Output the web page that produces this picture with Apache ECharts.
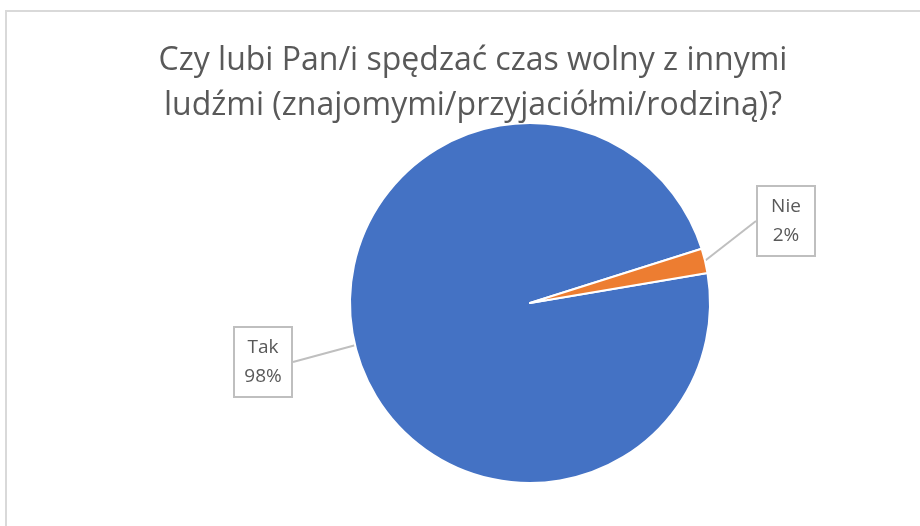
<!DOCTYPE html>
<html>
<head>
<meta charset="utf-8">
<script src="https://cdn.jsdelivr.net/npm/echarts@6/dist/echarts.min.js"></script>
<style>
html,body{margin:0;padding:0;background:#fff;}
#chart{width:920px;height:526px;}
</style>
</head>
<body>
<div id="chart"></div>
<script>
const titleText = 'Czy lubi Pan/i spędzać czas wolny z innymi\nludźmi (znajomymi/przyjaciółmi/rodziną)?';
const categories = ['Tak', 'Nie'];
const values = [97.8, 2.2];
const colors = ['#4472C4', '#ED7D31'];

const labelPos = {
  'Tak': { x: 291, y: 362, align: 'right' },
  'Nie': { x: 758, y: 221, align: 'left' }
};

const chart = echarts.init(document.getElementById('chart'));
chart.setOption({
  backgroundColor: '#ffffff',
  animation: false,
  graphic: [{
    type: 'rect',
    shape: { x: 6, y: 11, width: 1000, height: 1000 },
    style: { fill: 'none', stroke: '#d9d9d9', lineWidth: 2 },
    silent: true
  }],
  title: {
    text: titleText,
    left: 468,
    textAlign: 'center',
    top: 33,
    textStyle: {
      fontFamily: 'Open Sans',
      fontSize: 32,
      fontWeight: 'normal',
      color: '#595959',
      lineHeight: 45
    }
  },
  series: [{
    type: 'pie',
    center: [530, 303],
    radius: 180,
    startAngle: 9.6,
    clockwise: true,
    percentPrecision: 0,
    data: categories.map((c, i) => ({ name: c, value: values[i], itemStyle: { color: colors[i] } })),
    itemStyle: { borderColor: '#ffffff', borderWidth: 2 },
    label: {
      show: true,
      formatter: '{t|{b}}\n{t|{d}%}',
      backgroundColor: '#ffffff',
      borderColor: '#bfbfbf',
      borderWidth: 2,
      padding: [5, 8, 5, 8],
      rich: {
        t: {
          fontFamily: 'Open Sans',
          fontSize: 19,
          color: '#595959',
          lineHeight: 29,
          width: 40,
          align: 'center'
        }
      }
    },
    labelLine: {
      show: true,
      length: 5,
      length2: 0,
      lineStyle: { color: '#bfbfbf', width: 2 }
    },
    labelLayout: function (params) {
      const name = categories[params.dataIndex];
      const p = labelPos[name];
      return { x: p.x, y: p.y, align: p.align, verticalAlign: 'middle' };
    },
    emphasis: { disabled: true }
  }]
});
</script>
</body>
</html>
